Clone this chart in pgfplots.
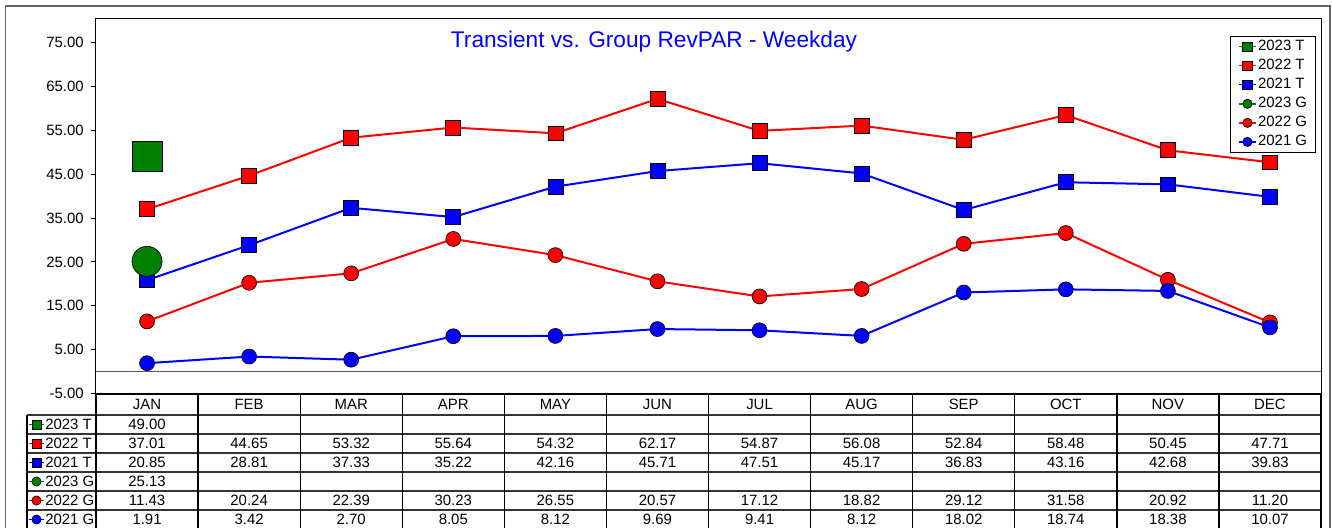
\documentclass[border=0pt]{standalone}
\usepackage{pgfplots}
\pgfplotsset{compat=1.18}
\usepackage{pgfplotstable}
\usepackage{fontspec}
\setmainfont{Liberation Sans}
\pgfkeys{/pgf/number format/assume math mode=true}
\definecolor{cgreen}{RGB}{0,128,0}
\definecolor{cred}{RGB}{255,0,0}
\definecolor{cblue}{RGB}{0,0,255}
\definecolor{frame}{RGB}{100,100,100}

\pgfplotstableread{
m t22 t21 g22 g21
0 37.01 20.85 11.43 1.91
1 44.65 28.81 20.24 3.42
2 53.32 37.33 22.39 2.70
3 55.64 35.22 30.23 8.05
4 54.32 42.16 26.55 8.12
5 62.17 45.71 20.57 9.69
6 54.87 47.51 17.12 9.41
7 56.08 45.17 18.82 8.12
8 52.84 36.83 29.12 18.02
9 58.48 43.16 31.58 18.74
10 50.45 42.68 20.92 18.38
11 47.71 39.83 11.20 10.07
}\dataold
\pgfplotstableread{
m t23 g23
0 49.00 25.13
}\datanew

\begin{document}
\begin{tikzpicture}
\useasboundingbox (0,0) rectangle (999pt,-396pt);
\clip (0,0) rectangle (999pt,-396pt);
\begin{scope}[x=0.75pt,y=-0.75pt]
\draw[frame, line width=1pt] (5.5,540) -- (5.5,6) -- (1330,6) -- (1330,540);
\end{scope}
\begin{axis}[
  at={(72pt,-295.1pt)}, anchor=south west, scale only axis,
  width=918.75pt, height=280.9pt,
  xmin=-0.5, xmax=11.5, ymin=-5, ymax=80.4,
  xtick=\empty, ytick={-5,5,...,75},
  ytick pos=left, tick align=outside, major tick length=3.75pt,
  tick style={black, line width=0.75pt},
  axis line style={black, line width=0.75pt},
  yticklabel style={/pgf/number format/.cd, fixed, fixed zerofill, precision=2, /tikz/.cd,
    font=\fontsize{11.2}{13}\selectfont, inner sep=0pt, anchor=east, xshift=-5.3pt},
  legend style={at={(axis description cs:0.9959,0.9546)}, anchor=north east,
    draw=black, line width=0.75pt, fill=white, font=\fontsize{11.2}{13}\selectfont,
    inner xsep=5.5pt, inner ysep=2.5pt, row sep=4.1pt,
    nodes={inner ysep=0pt, inner xsep=0.8pt, text height=8pt, text depth=2.2pt}},
  legend cell align=left,
  legend image code/.code={
    \draw[mark repeat=2, mark phase=2, #1, line width=1.1pt, mark size=3.5pt]
      plot coordinates {(0pt,0pt) (6.6pt,0pt) (13.2pt,0pt)};
  },
]
\draw[black!65, line width=0.75pt] (axis cs:-0.5,0) -- (axis cs:11.5,0);
\addplot[cgreen, line width=1.5pt, mark=square*, mark size=11.25pt,
  mark options={fill=cgreen, draw=black, line width=0.5pt}] table[x=m,y=t23]{\datanew};
\addplot[cred, line width=1.5pt, mark=square*, mark size=5.6pt,
  mark options={fill=cred, draw=black, line width=0.5pt}] table[x=m,y=t22]{\dataold};
\addplot[cblue, line width=1.5pt, mark=square*, mark size=5.6pt,
  mark options={fill=cblue, draw=black, line width=0.5pt}] table[x=m,y=t21]{\dataold};
\addplot[cgreen, line width=1.5pt, mark=*, mark size=11.25pt,
  mark options={fill=cgreen, draw=black, line width=0.5pt}] table[x=m,y=g23]{\datanew};
\addplot[cred, line width=1.5pt, mark=*, mark size=5.6pt,
  mark options={fill=cred, draw=black, line width=0.5pt}] table[x=m,y=g22]{\dataold};
\addplot[cblue, line width=1.5pt, mark=*, mark size=5.6pt,
  mark options={fill=cblue, draw=black, line width=0.5pt}] table[x=m,y=g21]{\dataold};
\legend{2023 T, 2022 T, 2021 T, 2023 G, 2022 G, 2021 G}
\end{axis}
\begin{scope}[x=0.75pt,y=-0.75pt, font=\fontsize{11.2}{13}\selectfont]
\node[anchor=base, text=cblue, font=\fontsize{17}{20}\selectfont, inner sep=0pt] at (654,47.5) {Transient vs. Group RevPAR - Weekday};
% table grid
\foreach \yy in {415,434,453,472,491,510} \draw[black!80, line width=1pt] (27,\yy) -- (1321,\yy);
\draw[black, line width=1.5pt] (96,394) -- (1321,394);
\draw[black, line width=1pt] (27,415) -- (27,540);
\foreach \k in {0,...,12} \draw[black, line width=1pt] ({96+102.083*\k},394) -- ({96+102.083*\k},540);
% month names
\foreach \mo [count=\k from 0] in {JAN,FEB,MAR,APR,MAY,JUN,JUL,AUG,SEP,OCT,NOV,DEC}
  \node[anchor=base, inner sep=0pt] at ({147.04+102.083*\k},409.9) {\mo};
% row labels: squares
\foreach \lab/\col [count=\r from 0] in {2023 T/cgreen,2022 T/cred,2021 T/cblue} {
  \pgfmathsetmacro{\yc}{424.5+19*\r}
  \draw[\col, line width=1pt] (29,\yc) -- (44,\yc);
  \filldraw[fill=\col, draw=black, line width=0.5pt] (32,\yc-4.5) rectangle (41,\yc+4.5);
  \node[anchor=base west, inner sep=0pt] at (45,\yc+5.4) {\lab};
}
% row labels: circles
\foreach \lab/\col [count=\r from 3] in {2023 G/cgreen,2022 G/cred,2021 G/cblue} {
  \pgfmathsetmacro{\yc}{424.5+19*\r}
  \draw[\col, line width=1pt] (29,\yc) -- (44,\yc);
  \filldraw[fill=\col, draw=black, line width=0.5pt] (36.5,\yc) circle (4.6);
  \node[anchor=base west, inner sep=0pt] at (45,\yc+5.4) {\lab};
}
% values
\pgfplotstablegetelem{0}{t23}\of\datanew
\node[anchor=base, inner sep=0pt] at (147.04,429.9) {\pgfmathprintnumber[fixed,fixed zerofill,precision=2]{\pgfplotsretval}};
\pgfplotstablegetelem{0}{g23}\of\datanew
\node[anchor=base, inner sep=0pt] at (147.04,486.9) {\pgfmathprintnumber[fixed,fixed zerofill,precision=2]{\pgfplotsretval}};
\foreach \k in {0,...,11} {
  \pgfplotstablegetelem{\k}{t22}\of\dataold
  \node[anchor=base, inner sep=0pt] at ({147.04+102.083*\k},448.9) {\pgfmathprintnumber[fixed,fixed zerofill,precision=2]{\pgfplotsretval}};
  \pgfplotstablegetelem{\k}{t21}\of\dataold
  \node[anchor=base, inner sep=0pt] at ({147.04+102.083*\k},467.9) {\pgfmathprintnumber[fixed,fixed zerofill,precision=2]{\pgfplotsretval}};
  \pgfplotstablegetelem{\k}{g22}\of\dataold
  \node[anchor=base, inner sep=0pt] at ({147.04+102.083*\k},505.9) {\pgfmathprintnumber[fixed,fixed zerofill,precision=2]{\pgfplotsretval}};
  \pgfplotstablegetelem{\k}{g21}\of\dataold
  \node[anchor=base, inner sep=0pt] at ({147.04+102.083*\k},524.9) {\pgfmathprintnumber[fixed,fixed zerofill,precision=2]{\pgfplotsretval}};
}
\end{scope}
\end{tikzpicture}
\end{document}
